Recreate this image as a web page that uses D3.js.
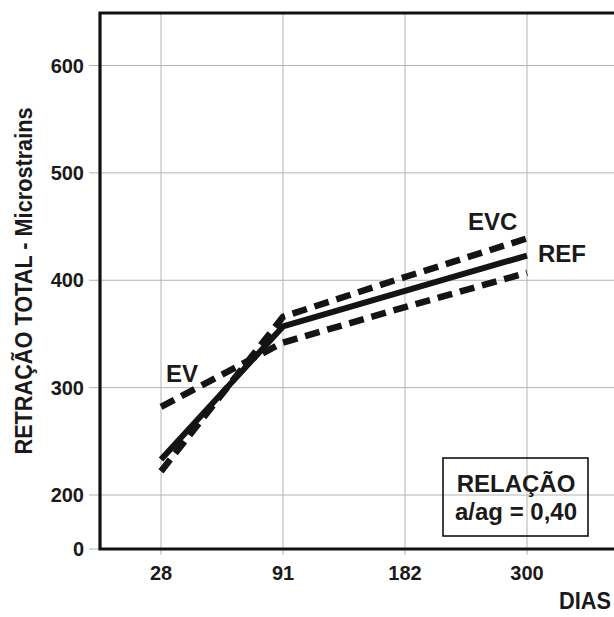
<!DOCTYPE html>
<html>
<head>
<meta charset="utf-8">
<script src="https://cdn.jsdelivr.net/npm/d3@7"></script>
<style>
  html, body { margin: 0; padding: 0; background: #fff; }
  svg { display: block; }
  text { font-family: "Liberation Sans", Arial, sans-serif; font-weight: bold; fill: #1a1a1a; }
</style>
</head>
<body>
<svg id="chart" width="614" height="617"></svg>
<script>
// ---- data ----
const days = ["28", "91", "182", "300"];
const yTicks = [0, 200, 300, 400, 500, 600];
const refValues = [233, 357, 390, 423];
const evcValues = [222, 366, 403, 439];
const evValues  = [282, 342, 375, 407];
const seriesNames = ["REF", "EVC", "EV"];
const yAxisTitle = "RETRAÇÃO TOTAL - Microstrains";
const xAxisTitle = "DIAS";
const boxLines = ["RELAÇÃO", "a/ag = 0,40"];

// ---- layout ----
const svg = d3.select("#chart");
const plotLeft = 100, plotTop = 13, plotBottom = 549, plotRight = 720;

const x = d3.scalePoint().domain(days).range([161, 527]);
// broken axis: 0 sits just below 200
const y = d3.scaleLinear().domain([0, 200, 600]).range([549, 495, 65.5]);

// grid
const grid = svg.append("g").attr("stroke", "#b4b4b4").attr("stroke-width", 1);
grid.selectAll("line.v").data(days).enter().append("line")
  .attr("x1", d => x(d)).attr("x2", d => x(d))
  .attr("y1", plotTop).attr("y2", plotBottom + 6);
grid.selectAll("line.h").data(yTicks).enter().append("line")
  .attr("x1", plotLeft - 11).attr("x2", plotRight)
  .attr("y1", d => y(d)).attr("y2", d => y(d));

// frame
svg.append("path")
  .attr("d", `M${plotRight},${plotBottom}H${plotLeft}V${plotTop}H${plotRight}`)
  .attr("fill", "none").attr("stroke", "#111").attr("stroke-width", 3.2);

// y tick labels
svg.append("g").selectAll("text").data(yTicks).enter().append("text")
  .attr("x", 84).attr("y", d => y(d)).attr("dy", "0.36em")
  .attr("text-anchor", "end").attr("font-size", 20)
  .text(d => d);

// x tick labels
svg.append("g").selectAll("text").data(days).enter().append("text")
  .attr("x", d => x(d)).attr("y", 580)
  .attr("text-anchor", "middle").attr("font-size", 20)
  .text(d => d);

// axis titles
svg.append("text")
  .attr("transform", "translate(32,281) rotate(-90)")
  .attr("text-anchor", "middle").attr("font-size", 24)
  .attr("textLength", 347).attr("lengthAdjust", "spacingAndGlyphs")
  .text(yAxisTitle);
svg.append("text")
  .attr("x", 559).attr("y", 609).attr("font-size", 23)
  .attr("textLength", 52).attr("lengthAdjust", "spacingAndGlyphs")
  .text(xAxisTitle);

// lines
const line = d3.line().x((d, i) => x(days[i])).y(d => y(d));
const styles = [
  { values: evValues,  dash: "15,8" },
  { values: evcValues, dash: "15,8" },
  { values: refValues, dash: null }
];
svg.append("g").selectAll("path").data(styles).enter().append("path")
  .attr("d", d => line(d.values))
  .attr("fill", "none").attr("stroke", "#141414")
  .attr("stroke-width", d => d.dash ? 6.5 : 6)
  .attr("stroke-linejoin", "round")
  .attr("stroke-dasharray", d => d.dash);

// series labels
const labelPos = { REF: [538, 262], EVC: [468, 230], EV: [166, 382] };
svg.append("g").selectAll("text").data(seriesNames).enter().append("text")
  .attr("x", d => labelPos[d][0]).attr("y", d => labelPos[d][1])
  .attr("font-size", 24).text(d => d);

// info box
svg.append("rect").attr("x", 443).attr("y", 458).attr("width", 145).attr("height", 78)
  .attr("fill", "none").attr("stroke", "#111").attr("stroke-width", 1.6);
svg.append("g").selectAll("text").data(boxLines).enter().append("text")
  .attr("x", 516).attr("y", (d, i) => 492 + i * 28)
  .attr("text-anchor", "middle").attr("font-size", 24)
  .text(d => d);
</script>
</body>
</html>
